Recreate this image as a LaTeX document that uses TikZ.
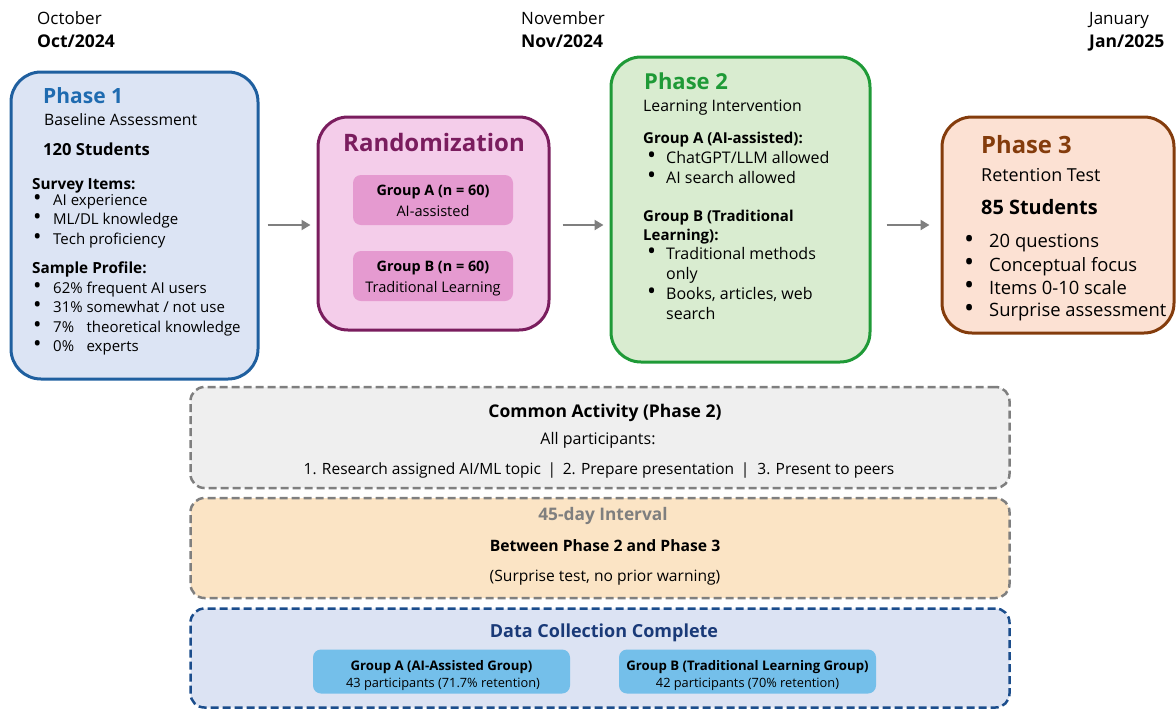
\documentclass[tikz,border=0pt]{standalone}
\usepackage{fontspec}
\setmainfont{Open Sans}
\usetikzlibrary{arrows.meta}
\definecolor{pOneB}{HTML}{1F5F9F}
\definecolor{pOneF}{HTML}{DCE4F4}
\definecolor{pOneT}{HTML}{1F6BB0}
\definecolor{rndB}{HTML}{7A1D5E}
\definecolor{rndF}{HTML}{F4CDEA}
\definecolor{rndI}{HTML}{E59AD0}
\definecolor{pTwoB}{HTML}{1F9A37}
\definecolor{pTwoF}{HTML}{D9ECD0}
\definecolor{pThrB}{HTML}{843C0C}
\definecolor{pThrF}{HTML}{FCE1D3}
\definecolor{gryB}{HTML}{7F7F7F}
\definecolor{comF}{HTML}{EFEFEF}
\definecolor{intF}{HTML}{FBE4C5}
\definecolor{datB}{HTML}{1B4D8C}
\definecolor{datT}{HTML}{1A3A78}
\definecolor{datF}{HTML}{DCE3F3}
\definecolor{datI}{HTML}{74BFEA}
\newcommand{\fs}[1]{\fontsize{#1}{#1}\selectfont\strut}
\newcommand{\bul}[1]{\fontsize{#1}{#1}\selectfont\scalebox{1.5}{•}}
\tikzset{
  phasebox/.style={draw, line width=3pt, rounded corners=30pt, inner sep=0pt},
  dashbox/.style={draw, line width=2.5pt, rounded corners=14pt, dash pattern=on 8pt off 4pt, inner sep=0pt},
  innerbox/.style={rounded corners=8pt, inner sep=0pt},
  txt/.style={inner sep=0pt, anchor=west, yshift=-3pt},
  ctxt/.style={inner sep=0pt, anchor=center, yshift=-3pt},
  bstyle/.style={inner sep=0pt, anchor=west, yshift=-1pt},
  arr/.style={draw=gryB, line width=2.5pt, -{Triangle[length=9pt,width=10pt]}},
}
\begin{document}
\begin{tikzpicture}[x=1pt,y=-1pt]
\useasboundingbox (0,0) rectangle (1176,710);
% dates
\node[txt] (d1a) at (37,18) {\fs{17}October};
\node[txt] (d1b) at (37,41) {\bfseries\fs{17.5}Oct/2024};
\node[txt] (d2a) at (521,18) {\fs{17}November};
\node[txt] (d2b) at (521,41) {\bfseries\fs{17.5}Nov/2024};
\node[txt] (d3a) at (1089,18) {\fs{17}January};
\node[txt] (d3b) at (1089,41) {\bfseries\fs{17.5}Jan/2025};

% Phase 1
\node[phasebox, draw=pOneB, fill=pOneF, minimum width=247pt, minimum height=307pt] (p1) at (134.5,225.5) {};
\node[txt, text=pOneT] (p1t) at (43,96) {\bfseries\fs{21}Phase 1};
\node[txt] (p1s) at (44,119) {\fs{15.7}Baseline Assessment};
\node[txt] (p1n) at (43,149) {\bfseries\fs{16.6}120 Students};
\node[txt] (p1h1) at (32,183) {\bfseries\fs{15.3}Survey Items:};
\foreach \y/\t [count=\i] in {199/AI experience,218/ML\slash DL knowledge,238/Tech proficiency}{
  \node[bstyle] (p1b\i) at (33,\y) {\bul{15}};
  \node[txt] (p1i\i) at (53,\y) {\fs{15}\t};
}
\node[txt] (p1h2) at (32,267) {\bfseries\fs{15.3}Sample Profile:};
\node[bstyle] (p1c1) at (33,287) {\bul{15}};
\node[txt] (p1j1) at (53,287) {\fs{15}62\% frequent AI users};
\node[bstyle] (p1c2) at (33,306) {\bul{15}};
\node[txt] (p1j2) at (53,306) {\fs{15}31\% somewhat / not use};
\node[bstyle] (p1c3) at (33,326) {\bul{15}};
\node[txt] (p1j3) at (53,326) {\fs{15}\rlap{7\%}\phantom{31\%} theoretical knowledge};
\node[bstyle] (p1c4) at (33,345) {\bul{15}};
\node[txt] (p1j4) at (53,345) {\fs{15}\rlap{0\%}\phantom{31\%} experts};

% Randomization
\node[phasebox, draw=rndB, fill=rndF, minimum width=231pt, minimum height=213pt] (rnd) at (433.5,223.5) {};
\node[ctxt, text=rndB] (rndt) at (434,143) {\bfseries\fs{24}Randomization};
\node[innerbox, fill=rndI, minimum width=160pt, minimum height=50pt] (rga) at (433,200) {};
\node[ctxt] (rga1) at (433,189) {\bfseries\fs{14.4}Group A (n = 60)};
\node[ctxt] (rga2) at (433,210) {\fs{14.6}AI-assisted};
\node[innerbox, fill=rndI, minimum width=160pt, minimum height=50pt] (rgb) at (433,276) {};
\node[ctxt] (rgb1) at (433,265) {\bfseries\fs{14.4}Group B (n = 60)};
\node[ctxt] (rgb2) at (433,286) {\fs{14.6}Traditional Learning};

% Phase 2
\node[phasebox, draw=pTwoB, fill=pTwoF, minimum width=259pt, minimum height=305pt] (p2) at (740.5,209.5) {};
\node[txt, text=pTwoB] (p2t) at (644,81) {\bfseries\fs{22}Phase 2};
\node[txt] (p2s) at (643,105) {\fs{15.8}Learning Intervention};
\node[txt] (p2h1) at (643,137) {\bfseries\fs{15}Group A (AI-assisted):};
\node[bstyle] (p2b1) at (647,157) {\bul{16}};
\node[txt] (p2i1) at (666,157) {\fs{16}ChatGPT/LLM allowed};
\node[bstyle] (p2b2) at (647,177) {\bul{16}};
\node[txt] (p2i2) at (666,177) {\fs{16}AI search allowed};
\node[txt] (p2h2) at (643,215) {\bfseries\fs{15}Group B (Traditional};
\node[txt] (p2h3) at (643,234) {\bfseries\fs{15}Learning):};
\node[bstyle] (p2b3) at (647,253) {\bul{16}};
\node[txt] (p2i3) at (666,253) {\fs{16}Traditional methods};
\node[txt] (p2i4) at (666,273) {\fs{16}only};
\node[bstyle] (p2b4) at (647,293) {\bul{16}};
\node[txt] (p2i5) at (666,293) {\fs{16}Books, articles, web};
\node[txt] (p2i6) at (666,313) {\fs{16}search};

% Phase 3
\node[phasebox, draw=pThrB, fill=pThrF, minimum width=232pt, minimum height=216pt] (p3) at (1058,225) {};
\node[txt, text=pThrB] (p3t) at (981,145) {\bfseries\fs{23.8}Phase 3};
\node[txt] (p3s) at (981,175) {\fs{17.9}Retention Test};
\node[txt] (p3n) at (981,207) {\bfseries\fs{19.9}85 Students};
\foreach \y/\t [count=\i] in {241/20 questions,264/Conceptual focus,287/Items 0-10 scale,310/Surprise assessment}{
  \node[bstyle] (p3b\i) at (964,\y) {\bul{18}};
  \node[txt] (p3i\i) at (989,\y) {\fs{18.4}\t};
}

% arrows
\draw[arr, shorten <=8pt, shorten >=6pt] (p1.east |- 0,225) -- (rnd.west |- 0,225);
\draw[arr, shorten <=12pt, shorten >=6pt] (rnd.east |- 0,225) -- (p2.west |- 0,225);
\draw[arr, shorten <=15pt, shorten >=11pt] (p2.east |- 0,225) -- (p3.west |- 0,225);

% Common activity
\node[dashbox, draw=gryB, fill=comF, minimum width=819pt, minimum height=101pt] (com) at (600,437.5) {};
\node[ctxt] (comt) at (605,410) {\bfseries\fs{17.5}Common Activity (Phase 2)};
\node[ctxt] (coms) at (598,438) {\fs{16}All participants:};
\node[ctxt] (coml) at (599,468) {\fs{15.5}1. Research assigned AI/ML topic \,|\, 2. Prepare presentation \,| \ 3. Present to peers};

% Interval
\node[dashbox, draw=gryB, fill=intF, minimum width=819pt, minimum height=100pt] (int) at (600,548) {};
\node[ctxt, text=gryB] (intt) at (603,514) {\bfseries\fs{17.3}45-day Interval};
\node[ctxt] (ints) at (605,545) {\bfseries\fs{15.7}Between Phase 2 and Phase 3};
\node[ctxt] (intn) at (605,575) {\fs{15.6}(Surprise test, no prior warning)};

% Data collection
\node[dashbox, draw=datB, fill=datF, minimum width=819pt, minimum height=99pt] (dat) at (600,658) {};
\node[ctxt, text=datT] (datt) at (604,630) {\bfseries\fs{18}Data Collection Complete};
\node[innerbox, fill=datI, minimum width=257pt, minimum height=44pt] (dga) at (441.5,671.5) {};
\node[ctxt] (dga1) at (441.5,664) {\bfseries\fs{13.2}Group A (AI-Assisted Group)};
\node[ctxt] (dga2) at (443,682) {\fs{12.8}43 participants (71.7\% retention)};
\node[innerbox, fill=datI, minimum width=257pt, minimum height=44pt] (dgb) at (747.5,671.5) {};
\node[ctxt] (dgb1) at (747.5,664) {\bfseries\fs{13.2}Group B (Traditional Learning Group)};
\node[ctxt] (dgb2) at (747.5,682) {\fs{12.8}42 participants (70\% retention)};
\end{tikzpicture}
\end{document}
